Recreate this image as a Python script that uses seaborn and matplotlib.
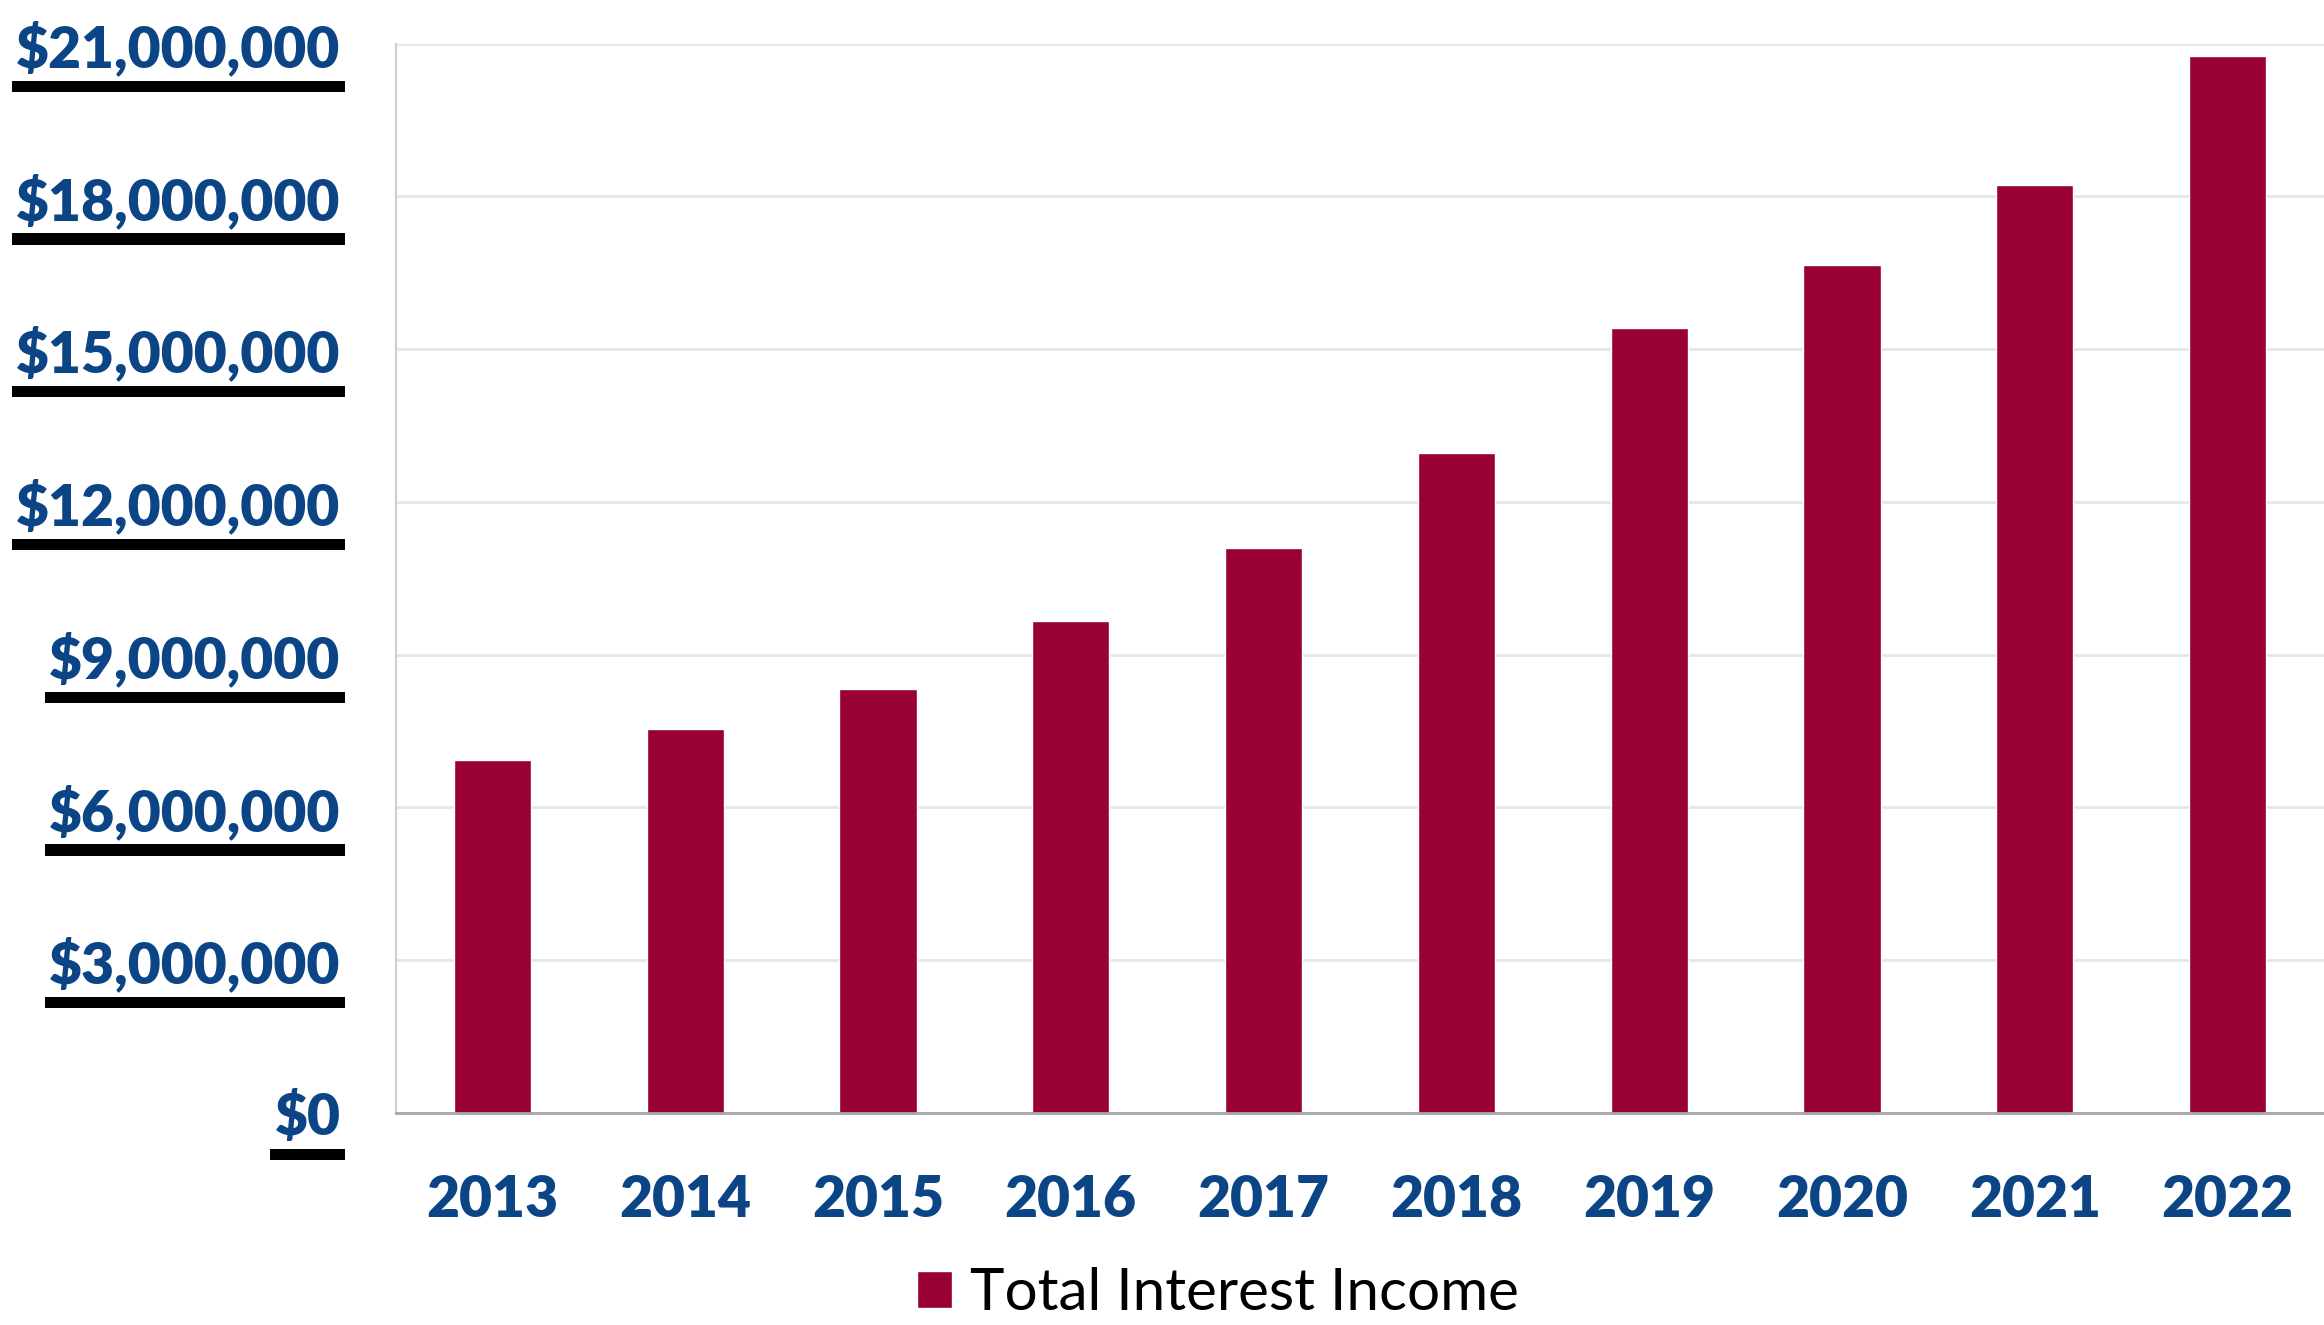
import pandas as pd
import numpy as np
import seaborn as sns
import matplotlib.pyplot as plt
import matplotlib.patheffects as pe
from matplotlib.ticker import FuncFormatter, FixedLocator

years = ['2013', '2014', '2015', '2016', '2017', '2018', '2019', '2020', '2021', '2022']
income = [6930000, 7540000, 8330000, 9670000, 11100000, 12960000, 15410000, 16660000, 18230000, 20750000]
series = 'Total Interest Income'
yticks = [0, 3000000, 6000000, 9000000, 12000000, 15000000, 18000000, 21000000]

bar_col = '#990033'
lab_col = '#0B4586'

sns.set_style('white')
plt.rcParams['font.family'] = ['Lato', 'DejaVu Sans']

df = pd.DataFrame({'Year': years, 'Income': income, 'Series': series})

fig = plt.figure(figsize=(23.24, 13.25), dpi=100)
ax = fig.add_axes([0.1704, 0.160, 0.8296, 0.807])
sns.barplot(data=df, x='Year', y='Income', hue='Series', palette=[bar_col],
            width=0.4, saturation=1, ax=ax)

ax.set_ylim(0, 21000000)
ax.set_xlim(-0.5, 9.5)
ax.yaxis.set_major_locator(FixedLocator(yticks))
ax.yaxis.set_major_formatter(FuncFormatter(lambda v, p: '${:,.0f}'.format(v)))
ax.grid(axis='y', color='#e6e6e6', lw=2)
ax.set_axisbelow(True)
ax.set_xlabel('')
ax.set_ylabel('')

for s in ['top', 'right']:
    ax.spines[s].set_visible(False)
ax.spines['left'].set_color('#c8d0dc')
ax.spines['left'].set_linewidth(1.5)
ax.spines['bottom'].set_color('#a6a6a6')
ax.spines['bottom'].set_linewidth(2)

# category boundary ticks
ax.set_xticks(np.arange(-0.5, 10, 1), minor=True)
ax.tick_params(axis='x', which='minor', length=13, width=1.5, color='#a6a6a6', direction='out')
ax.tick_params(axis='x', which='major', length=0, pad=44, labelsize=41, labelcolor=lab_col)
ax.tick_params(axis='y', length=0, pad=40, labelsize=41, labelcolor=lab_col)
for t in ax.get_xticklabels():
    t.set_fontweight('heavy')
for t in ax.get_yticklabels():
    t.set_fontweight('heavy')
    t.set_bbox(dict(boxstyle='square,pad=0.08', fc='white', ec='none'))
    t.get_bbox_patch().set_path_effects([
        pe.withSimplePatchShadow(offset=(0, -8), shadow_rgbFace='black', alpha=1)])

leg = ax.legend(loc='center', bbox_to_anchor=(0.524, 0.024), bbox_transform=fig.transFigure,
                frameon=False, fontsize=42, handlelength=0.6, handleheight=0.6,
                handletextpad=0.3, labelcolor='black', borderpad=0.1)

fig.savefig('out.png', dpi=100)
